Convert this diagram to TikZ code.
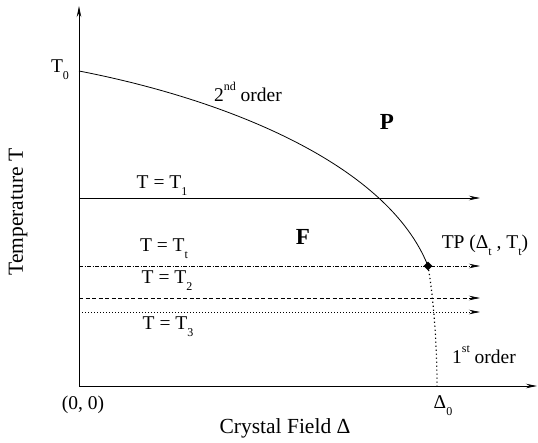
\documentclass[tikz,border=0pt]{standalone}
\usepackage{fontspec}
\setmainfont{Liberation Serif}
\usetikzlibrary{arrows.meta,shapes.geometric}
\newcommand{\lowsub}[1]{\raisebox{-0.35em}{\fontsize{12}{12}\selectfont #1}}
\newcommand{\highsup}[1]{\raisebox{0.55em}{\fontsize{12}{12}\selectfont #1}}

\begin{document}
\begin{tikzpicture}[x=1pt,y=-1pt,
	lbl/.style={font=\rmfamily\fontsize{19.5}{21}\selectfont, inner sep=0pt},
	axlbl/.style={font=\rmfamily\fontsize{21.5}{23}\selectfont, inner sep=0pt},
	phase/.style={font=\rmfamily\fontsize{23}{25}\selectfont\bfseries, inner sep=0pt},
	isotherm/.style={line width=0.7pt,-{Stealth[length=11pt,width=4.5pt]}}]
	\useasboundingbox (0,0) rectangle (538,442);
	% axes
	\coordinate (O) at (79,386);
	\coordinate (Ytip) at (79,6);
	\coordinate (Xtip) at (537,386);
	\draw [line width=0.9pt,-{Stealth[length=11pt,width=4.5pt]}] (O) -- (Ytip);
	\draw [line width=0.9pt,-{Stealth[length=11pt,width=4.5pt]}] (O) -- (Xtip);
	% isotherms
	\coordinate (A1) at (79,198);  \coordinate (B1) at (480,198);
	\coordinate (At) at (79,266);  \coordinate (Bt) at (480,266);
	\coordinate (A2) at (79,298);  \coordinate (B2) at (480,298);
	\coordinate (A3) at (79,312);  \coordinate (B3) at (480,312);
	\draw [isotherm] (A1) -- (B1);
	\draw [isotherm, dash pattern=on 4pt off 1.5pt on 1pt off 1.5pt] (At) -- (Bt);
	\draw [isotherm, dash pattern=on 4pt off 2.5pt] (A2) -- (B2);
	\draw [isotherm, dash pattern=on 1.2pt off 1.8pt] (A3) -- (B3);
	% transition lines
	\coordinate (T0pt) at (79,71);
	\node (TP) [diamond, fill, inner sep=0pt, minimum size=9pt] at (428,266) {};
	\coordinate (D0pt) at (437,386);
	\draw [line width=0.8pt] (T0pt) .. controls (229,100) and (388,165) .. (TP.center);
	\draw [line width=1.2pt, dash pattern=on 1.2pt off 2.8pt] (TP.center) .. controls (433,295) and (437,340) .. (D0pt);
	% labels
	\node [lbl] (T0) at (60,70) {T\lowsub{0}};
	\node [lbl] (second) at (248,92) {2\highsup{nd} order};
	\node [phase] (P) at (387,122) {P};
	\node [phase] (F) at (303,237) {F};
	\node [lbl] (L1) at (162,186) {T = T\lowsub{1}};
	\node [lbl] (Lt) at (164,249) {T = T\lowsub{t}};
	\node [lbl] (L2) at (167,281) {T = T\lowsub{2}};
	\node [lbl] (L3) at (168,327) {T = T\lowsub{3}};
	\node [lbl] (TPl) at (485,245) {TP (Δ\lowsub{t} , T\lowsub{t})};
	\node [lbl] (first) at (484,355) {1\highsup{st} order};
	\node [lbl] (D0) at (443,406) {Δ\lowsub{0}};
	\node [lbl] (orig) at (83,405) {(0, 0)};
	\node [axlbl] (xl) at (285,428) {Crystal Field Δ};
	\node [axlbl, rotate=90] (yl) at (18,212) {Temperature T};
\end{tikzpicture}
\end{document}
